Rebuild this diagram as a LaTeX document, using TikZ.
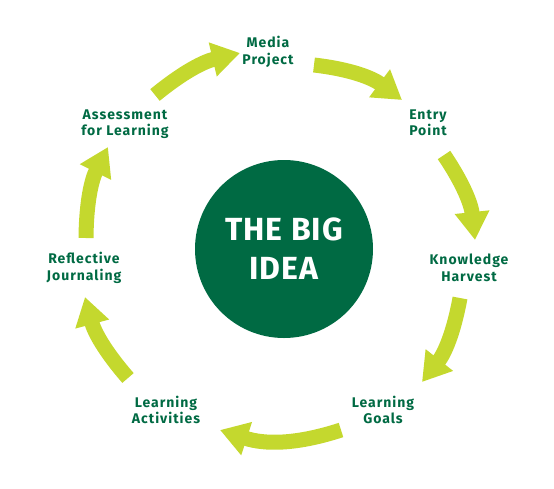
\documentclass[tikz,border=0pt]{standalone}
\usepackage{fontspec}
\setmainfont{Fira Sans}
\usetikzlibrary{arrows.meta}
\definecolor{darkgreen}{HTML}{006A43}
\definecolor{limegreen}{HTML}{C4D82E}

\begin{document}
\begin{tikzpicture}[x=1pt,y=-1pt,
    stage/.style={text=darkgreen,font=\bfseries\fontsize{14}{16.5}\selectfont\addfontfeature{LetterSpace=7},align=center},
    cycle/.style={draw=limegreen,line width=15pt,-{Triangle[length=28pt,width=33pt]}}]
    \useasboundingbox (0,0) rectangle (554,488);
    \node[circle,fill=darkgreen,minimum size=178pt,inner sep=0pt,text=white,
      font=\bfseries\fontsize{32}{39}\selectfont\addfontfeature{LetterSpace=3},align=center] (idea) at (284,249) {THE BIG\\IDEA};
    \node[stage] (media) at (268,52) {Media\\Project};
    \node[stage] (entry) at (428,123) {Entry\\Point};
    \node[stage] (harvest) at (469,268) {Knowledge\\Harvest};
    \node[stage] (goals) at (383,410) {Learning\\Goals};
    \node[stage] (activities) at (166,410) {Learning\\Activities};
    \node[stage] (journal) at (84,268) {Reflective\\Journaling};
    \node[stage] (assess) at (125,124) {Assessment\\for Learning};
    % arrow ends
    \coordinate (a1) at (155,95);  \coordinate (b1) at (240,53);
    \coordinate (a2) at (314,65);  \coordinate (b2) at (402,100);
    \coordinate (a3) at (444,155); \coordinate (b3) at (475,240);
    \coordinate (a4) at (460,298); \coordinate (b4) at (422,382);
    \coordinate (a5) at (341,430); \coordinate (b5) at (220,430);
    \coordinate (a6) at (128,378); \coordinate (b6) at (85,297);
    \coordinate (a7) at (86,238);  \coordinate (b7) at (108,147);
    \draw[cycle, bend left=13] (a1) to (b1);
    \draw[cycle, bend left=15] (a2) to (b2);
    \draw[cycle, bend left=14] (a3) to (b3);
    \draw[cycle, bend left=14] (a4) to (b4);
    \draw[cycle, bend left=18] (a5) to (b5);
    \draw[cycle, bend left=13] (a6) to (b6);
    \draw[cycle, bend left=13] (a7) to (b7);
  \end{tikzpicture}
\end{document}
